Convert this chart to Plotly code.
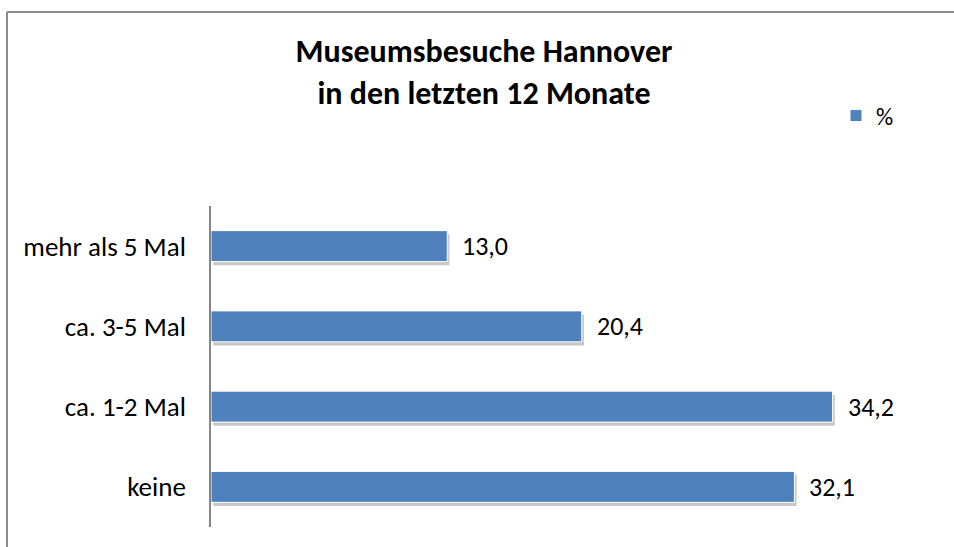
import plotly.graph_objects as go

categories = ["keine", "ca. 1-2 Mal", "ca. 3-5 Mal", "mehr als 5 Mal"]
values = [32.1, 34.2, 20.4, 13.0]
series_name = "%"
title_text = "Museumsbesuche Hannover<br>in den letzten 12 Monate"

W, H = 954, 547
L, R, T, B = 211, 16, 206, 20
pw, ph = W - L - R, H - T - B
xmax = 40
bar_w = 0.386
FONT = "Carlito, Lato, sans-serif"

def px_x(p):
    return (p - L) / pw

def px_y(p):
    return (H - B - p) / ph

fig = go.Figure()
# soft drop shadow
fig.add_trace(go.Bar(
    y=categories, x=values, orientation="h", base=0.12,
    width=bar_w, offset=-bar_w / 2 - 0.045,
    marker=dict(color="rgba(0,0,0,0.22)", line=dict(width=0)),
    showlegend=False, hoverinfo="skip",
))
fig.add_trace(go.Bar(
    y=categories, x=values, orientation="h", name=series_name,
    width=bar_w, offset=-bar_w / 2,
    marker=dict(color="#4F81BD", line=dict(color="white", width=1)),
))

for c, v in zip(categories, values):
    fig.add_annotation(
        x=v, y=c, xref="x", yref="y", text=f"{v:.1f}".replace(".", ","),
        showarrow=False, xanchor="left", yanchor="middle", xshift=13,
        font=dict(family=FONT, size=26, color="black"),
    )

# chart-area frame (left and top edges visible in the reference)
fig.add_shape(type="line", xref="paper", yref="paper",
              x0=px_x(7), x1=px_x(7), y0=px_y(H), y1=px_y(12),
              line=dict(color="#8c8c8c", width=2))
fig.add_shape(type="line", xref="paper", yref="paper",
              x0=px_x(7), x1=px_x(W), y0=px_y(12), y1=px_y(12),
              line=dict(color="#8c8c8c", width=2))

fig.update_layout(
    width=W, height=H,
    margin=dict(l=L, r=R, t=T, b=B),
    paper_bgcolor="white", plot_bgcolor="white",
    barmode="overlay",
    font=dict(family=FONT, size=26, color="black"),
    title=dict(text=f"<b>{title_text}</b>", x=484 / W, xanchor="center",
               y=1 - 62 / H, yanchor="top", yref="container",
               font=dict(family=FONT, size=32, color="black")),
    legend=dict(x=px_x(836), y=px_y(116), xanchor="left", yanchor="middle",
                font=dict(family=FONT, size=24), bgcolor="rgba(0,0,0,0)",
                itemwidth=30),
    xaxis=dict(range=[0, xmax], visible=False, showgrid=False, zeroline=False),
    yaxis=dict(categoryorder="array", categoryarray=categories,
               range=[-0.5, 3.5], showline=True, linecolor="#868686", linewidth=1.5,
               showgrid=False, zeroline=False, ticks="", ticklabelstandoff=18,
               tickfont=dict(family=FONT, size=27)),
)

fig.write_html(
    "out.html", config={"displayModeBar": False},
    post_script=("document.body.style.margin='0';"
                 "document.body.style.overflow='hidden';"
                 "document.documentElement.style.overflow='hidden';"))
